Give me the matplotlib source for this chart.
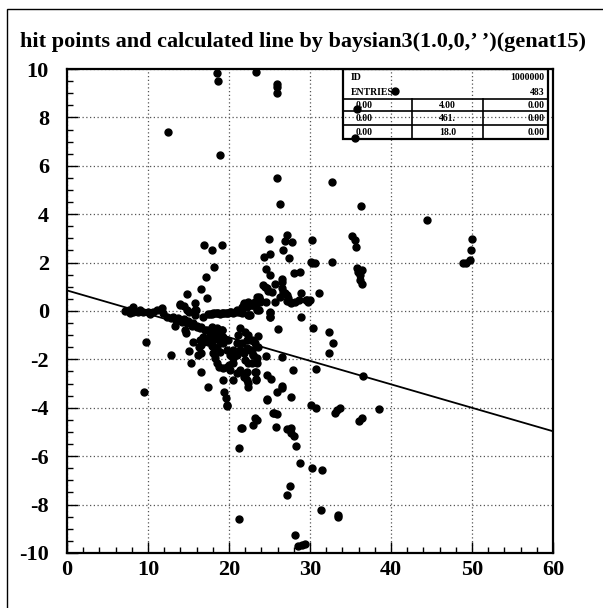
import matplotlib
matplotlib.use("Agg")
import matplotlib.pyplot as plt
from matplotlib.patches import Rectangle
from matplotlib.ticker import MultipleLocator

plt.rcParams["font.family"] = ["Liberation Serif", "DejaVu Serif"]
plt.rcParams["font.weight"] = "bold"
plt.rcParams["axes.unicode_minus"] = False

title = "hit points and calculated line by baysian3(1.0,0,\u2019 \u2019)(genat15)"

# hit points (x, y)
hit_x = [
    18.5, 18.6, 23.3, 25.9, 25.9, 25.9, 18.85, 12.5, 25.9, 32.7, 26.25, 36.3, 44.4,
    40.5, 35.8, 35.6,
    16.95, 17.9, 19.15, 18.2, 17.1, 16.6, 17.25, 14.8, 14.0, 14.4, 15.8, 15.9, 15.1,
    7.2, 7.6, 8.2, 8.2, 8.8, 9.4, 10.0, 10.65, 11.1, 11.7, 11.9, 7.8, 9.0, 10.3,
    12.3, 12.9, 13.1, 13.5, 13.75, 14.2, 14.45, 14.8, 15.0, 15.4, 15.5, 16.0, 16.0,
    16.4, 16.6, 17.0, 17.25, 17.65, 17.85, 18.3, 18.5, 18.7, 18.9, 19.1, 19.3,
    13.3, 14.6, 14.7, 15.6, 15.1, 12.8, 15.3, 16.2, 16.3, 16.4, 16.75, 16.6, 17.35,
    17.95, 18.05, 18.3, 18.5, 18.8, 19.3, 19.7, 20.0, 20.5, 19.3, 19.4, 19.6, 19.8,
    20.5, 21.6, 23.0, 23.4, 9.7, 9.5, 16.5, 16.6, 16.8, 17.65, 18.05, 17.45, 16.8,
    18.55, 18.9, 20.1, 20.95, 21.8, 22.2, 22.4,
    17.65, 18.3, 18.9, 19.5, 20.1, 20.7, 21.4, 21.8, 22.2, 22.8, 23.4, 23.65, 23.65,
    21.4, 22.0, 22.4, 22.8, 23.2, 23.6, 22.2, 22.6, 23.0, 23.4, 21.8, 21.4, 20.95,
    20.5, 22.0, 22.8, 23.2, 21.8, 22.4, 23.3, 22.2, 19.7, 20.1, 20.5, 20.95, 18.3,
    18.8, 19.3, 19.9, 17.85, 18.5, 19.1, 18.05, 21.15, 22.4, 21.6,
    24.9, 27.2, 26.9, 27.8, 25.1, 24.3, 26.7, 27.4, 30.2, 30.1, 30.3, 30.6, 32.7,
    31.1, 24.6, 25.1, 26.5, 26.5, 25.7, 28.0, 28.8, 28.9, 29.5, 30.0,
    24.2, 24.4, 24.7, 24.85, 25.3, 26.5, 26.7, 26.9, 27.1, 26.3, 27.3, 27.5, 28.1,
    28.6, 23.4, 23.8, 23.2, 22.8, 22.2, 21.6, 20.95, 20.3, 19.7, 19.1, 18.5, 17.85,
    17.45, 23.5, 25.0, 25.1, 22.5, 28.85, 14.0, 14.8, 15.8, 15.8, 16.8,
    18.05, 18.7, 19.3, 19.9, 20.5, 21.15,
    30.4, 32.4, 32.9, 32.4, 30.7, 27.85, 26.5, 26.0, 25.1, 25.1, 23.6, 24.6, 23.3,
    23.3, 24.65, 25.2, 25.9, 26.5, 26.6, 27.7, 24.7, 30.1, 30.7, 33.3, 33.7, 33.1,
    25.5, 25.9, 23.2,
    21.8, 22.4, 23.0, 23.4, 22.6, 21.6, 23.8, 23.6, 24.6, 25.7, 27.1, 27.7, 29.6,
    29.8, 21.6, 22.2, 22.8, 23.0, 23.4, 22.4, 21.4, 22.0,
    19.8, 24.65, 21.5, 21.2, 25.4, 25.8, 27.1, 27.6, 27.7, 28.0, 28.3, 28.8, 30.2,
    31.5, 27.5, 27.2, 31.3, 33.5, 33.4, 21.2, 28.1, 28.55, 29.0, 29.4, 36.0, 36.4,
    38.5,
    35.2, 35.6, 35.7, 35.8, 35.9, 36.2, 36.4, 36.4, 36.2, 36.5,
    48.9, 49.3, 49.7, 49.9, 50.0,
]
hit_y = [
    9.82, 9.5, 9.86, 9.4, 9.25, 9.0, 6.43, 7.4, 5.51, 5.34, 4.43, 4.34, 3.76,
    9.09, 8.33, 7.14,
    2.73, 2.52, 2.74, 1.83, 1.42, 0.91, 0.55, 0.7, 0.29, 0.21, 0.32, 0.04, -0.05,
    0.0, 0.05, 0.18, -0.03, -0.03, -0.05, -0.03, -0.03, 0.04, 0.11, -0.1, -0.08, 0.06, -0.12,
    -0.24, -0.3, -0.26, -0.37, -0.3, -0.44, -0.35, -0.51, -0.41, -0.62, -0.51, -0.65, -0.62,
    -0.72, -0.67, -0.79, -0.79, -0.85, -0.92, -0.92, -0.85, -0.99, -0.99, -0.79, -1.06,
    -0.6, -0.79, -0.92, -1.27, -1.66, -1.82, -2.16, -1.82, -1.47, -1.2, -1.16, -2.53, -3.13,
    -1.45, -1.75, -1.95, -2.16, -2.3, -2.37, -2.3, -2.23, -2.14, -2.85, -3.33, -3.61, -3.88,
    -2.85, -4.85, -4.71, -4.5, -1.3, -3.33, -1.75, -1.4, -1.27, -1.06, -1.2, -1.27, -1.06,
    -1.47, -1.68, -2.44, -2.57, -2.71, -2.85, -2.99,
    -0.12, -0.1, -0.12, -0.07, -0.03, -0.03, -0.03, 0.29, 0.25, 0.25, 0.38, 0.57, 0.04,
    -0.72, -0.85, -0.99, -1.2, -1.34, -1.47, -1.2, -1.61, -1.82, -1.95, -1.75, -1.61, -1.34,
    -1.61, -2.02, -2.16, -2.51, -2.64, -3.13, -2.85, -2.51, -1.61, -1.82, -1.95, -1.82, -1.13,
    -1.2, -1.34, -1.2, -0.67, -0.72, -0.79, -1.06, -0.99, -0.17, -0.1,
    2.99, 3.13, 2.9, 2.86, 2.34, 2.22, 2.51, 2.2, 2.93, 2.04, 1.97, 1.97, 2.01,
    0.74, 1.72, 1.5, 1.32, 1.21, 1.1, 1.56, 1.61, 0.73, 0.45, 0.45,
    1.07, 1.0, 0.94, 0.84, 0.8, 0.94, 0.8, 0.73, 0.66, 0.59, 0.52, 0.38, 0.38,
    0.45, 0.59, 0.45, 0.38, 0.25, 0.18, 0.18, 0.04, -0.03, -0.1, -0.1, -0.1, -0.12,
    -0.12, 0.08, -0.03, -0.24, -0.17, -0.24, 0.25, 0.04, 0.04, -0.17, -0.24,
    -0.1, -0.07, -0.07, -0.1, -0.07, -0.03,
    -0.69, -0.85, -1.31, -1.75, -2.38, -2.45, -1.92, -0.76, -0.07, -0.24, -1.03, -1.86, -2.53,
    -2.81, -2.64, -2.82, -3.33, -3.1, -3.19, -3.54, -3.64, -3.87, -4.02, -4.09, -4.02, -4.2,
    -4.23, -4.27, -4.43,
    0.32, 0.38, 0.32, 0.04, -0.17, 0.04, 0.38, 0.45, 0.38, 0.38, 0.43, 0.32, 0.45,
    0.38, -1.34, -1.54, -1.61, -1.82, -2.16, -2.16, -2.44, -2.71,
    -3.91, -3.68, -4.85, -5.65, -4.23, -4.78, -4.89, -4.85, -5.05, -5.15, -5.58, -6.27, -6.5,
    -6.57, -7.23, -7.59, -8.22, -8.43, -8.5, -8.6, -9.26, -9.7, -9.67, -9.63, -4.53, -4.43,
    -4.06,
    3.1, 2.93, 2.64, 1.78, 1.61, 1.49, 1.69, 1.12, 1.28, -2.69,
    1.98, 2.0, 2.12, 2.5, 2.98,
]

# fitted line
line_x = [0.0, 60.0]
line_y = [0.85, -4.97]

# statistics box rows
stat_head = [("ID", "1000000"), ("ENTRIES", "483")]
stat_rows = [("0.00", "4.00", "0.00"), ("0.00", "461.", "0.00"), ("0.00", "18.0", "0.00")]

fig = plt.figure(figsize=(6.03, 6.08), dpi=100)
ax = fig.add_axes([0.1111, 0.0905, 0.806, 0.796])

# outer frame
fig.patches.append(Rectangle((7 / 603, -0.2), 1.2, 1.2 - 9 / 608,
                             transform=fig.transFigure, fill=False,
                             edgecolor="black", linewidth=1.0))

fig.text(20 / 603, 1 - 42 / 608, title, fontsize=16, fontweight="bold",
         va="center", ha="left")

ax.set_xlim(0, 60)
ax.set_ylim(-10, 10)
ax.xaxis.set_major_locator(MultipleLocator(10))
ax.xaxis.set_minor_locator(MultipleLocator(2))
ax.yaxis.set_major_locator(MultipleLocator(2))
ax.yaxis.set_minor_locator(MultipleLocator(0.5))
ax.tick_params(which="both", direction="in", top=False, right=False,
               labelsize=16, width=1.0)
ax.tick_params(which="major", length=8)
ax.tick_params(which="minor", length=4)
ax.tick_params(axis="y", pad=13)
ax.tick_params(axis="x", pad=5)
for lab in ax.get_xticklabels() + ax.get_yticklabels():
    lab.set_fontweight("bold")
for sp in ax.spines.values():
    sp.set_linewidth(1.6)
ax.grid(True, which="major", linestyle=(0, (1, 2)), color="#555555", linewidth=0.9)
ax.set_axisbelow(True)

# statistics box (transparent, drawn over the grid)
bx0, bx1, by0, by1 = 0.568, 0.99, 0.855, 1.0
ax.add_patch(Rectangle((bx0, by0), bx1 - bx0, by1 - by0, transform=ax.transAxes,
                       fill=False, edgecolor="black", linewidth=1.6, zorder=2))
row_lines = [0.938, 0.913, 0.884]
for yl in row_lines:
    ax.plot([bx0, bx1], [yl, yl], transform=ax.transAxes, color="black",
            linewidth=1.2, zorder=2)
for xl in [0.71, 0.856]:
    ax.plot([xl, xl], [by0, 0.938], transform=ax.transAxes, color="black",
            linewidth=1.2, zorder=2)
head_y = [0.983, 0.951]
for (name, val), yy in zip(stat_head, head_y):
    ax.text(bx0 + 0.016, yy, name, transform=ax.transAxes, fontsize=7,
            fontweight="bold", va="center", ha="left", zorder=2)
    ax.text(bx1 - 0.008, yy, val, transform=ax.transAxes, fontsize=7,
            fontweight="bold", va="center", ha="right", zorder=2)
row_y = [0.925, 0.898, 0.869]
for (a, b, c), yy in zip(stat_rows, row_y):
    ax.text(bx0 + 0.026, yy, a, transform=ax.transAxes, fontsize=7,
            fontweight="bold", va="center", ha="left", zorder=2)
    ax.text(0.783, yy, b, transform=ax.transAxes, fontsize=7,
            fontweight="bold", va="center", ha="center", zorder=2)
    ax.text(bx1 - 0.008, yy, c, transform=ax.transAxes, fontsize=7,
            fontweight="bold", va="center", ha="right", zorder=2)

ax.plot(line_x, line_y, color="black", linewidth=1.3, zorder=3)
ax.plot(hit_x, hit_y, "o", color="black", markersize=5, zorder=4)

fig.savefig("out.png", dpi=100)
